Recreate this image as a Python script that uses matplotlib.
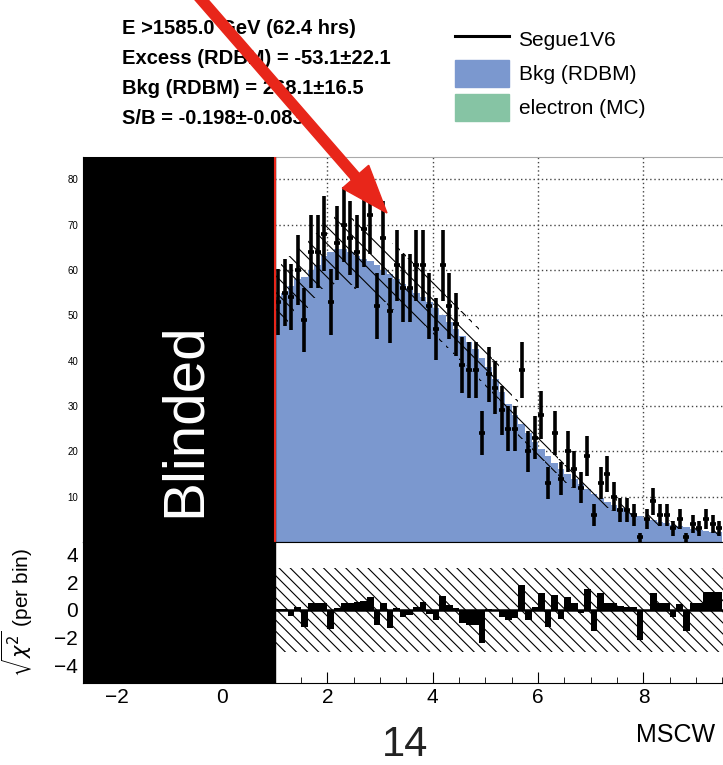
import numpy as np
import matplotlib.pyplot as plt
from matplotlib.patches import Patch, FancyArrow
from matplotlib.lines import Line2D
from matplotlib.ticker import MultipleLocator

plt.rcParams['font.family'] = ['Liberation Sans', 'DejaVu Sans']
plt.rcParams['hatch.linewidth'] = 0.8

# бины MSCW: ширина 0.125, начиная с 1.0
bin_lo = 1.0
bin_w = 0.125

# число событий в бинах (Segue1V6)
counts = [53, 55, 54, 60, 49, 64, 64, 68, 53, 66,
          70, 67, 64, 69, 72, 52, 67, 51, 61, 56,
          56, 61, 61, 52, 47, 61, 52, 48, 39, 38,
          38, 24, 37, 34, 29, 25, 25, 38, 20, 23,
          28, 13, 24, 14, 20, 16, 12, 19, 6, 13,
          15, 10, 7, 7, 6, 1, 5, 9, 6, 6,
          3, 5, 1, 4, 3, 5, 4, 3]

# фон (RDBM)
bkg = [54, 55, 56.5, 58, 58.5, 60, 61, 63, 64, 64.5,
       64.5, 64, 63, 62.5, 62, 61, 60, 59, 58, 57,
       56, 55, 54, 53, 51.5, 50, 48.5, 47, 45.5, 44,
       42.5, 40.5, 38.5, 36, 33, 30.5, 28, 26, 24, 22,
       20.5, 19, 17.5, 16.2, 15, 13.8, 12.7, 11.6, 10.6, 9.7,
       8.9, 8.2, 7.5, 6.9, 6.3, 5.8, 5.3, 4.9, 4.5, 4.1,
       3.8, 3.5, 3.2, 2.9, 2.7, 2.5, 2.3, 2.1]

bkg_err = [6.3, 6.4, 6.6, 6.8, 6.8, 7.0, 7.1, 7.3, 7.4, 7.5,
           7.5, 7.4, 7.3, 7.3, 7.2, 7.1, 7.0, 6.9, 6.8, 6.7,
           6.6, 6.5, 6.3, 6.2, 6.1, 5.9, 5.7, 5.6, 5.4, 5.2,
           5.1, 4.9, 4.6, 4.4, 4.0, 3.8, 3.5, 3.3, 3.0, 2.8,
           2.6, 2.5, 2.3, 2.2, 2.0, 1.9, 1.8, 1.7, 1.6, 1.5,
           1.4, 1.3, 1.2, 1.2, 1.1, 1.0, 1.0, 0.9, 0.9, 0.8,
           0.8, 0.7, 0.7, 0.7, 0.6, 0.6, 0.6, 0.5]

# sqrt(chi2) по бинам
resid = [0.05, 0.05, -0.43, 0.24, -1.2, 0.48, 0.48, 0.48, -1.37, 0.12,
         0.48, 0.48, 0.55, 0.67, 0.9, -1.08, 0.48, -1.27, 0.12, -0.48,
         -0.36, 0.24, 0.55, -0.29, -0.72, 1.03, 0.36, 0.12, -0.96, -1.08,
         -1.08, -2.4, 0.07, -0.07, -0.48, -0.72, -0.6, 1.8, -0.72, 0.24,
         1.2, -1.2, 1.08, -0.67, 0.96, 0.48, -0.24, 1.49, -1.49, 1.2,
         0.48, 0.48, 0.3, 0.24, 0.24, -2.16, -0.1, 1.2, 0.48, 0.48,
         -0.48, 0.4, -1.5, 0.53, 0.53, 1.27, 1.27, 1.27]

chi_band = [-3, 3]
blind_edge = 1.0
x_ticks = [-2, 0, 2, 4, 6, 8]
top_ticks = [10, 20, 30, 40, 50, 60, 70, 80]
chi_ticks = [-4, -2, 0, 2, 4]

info_lines = ['E >1585.0 GeV (62.4 hrs)',
              'Excess (RDBM) = -53.1\u00b122.1',
              'Bkg (RDBM) = 268.1\u00b116.5',
              'S/B = -0.198\u00b1-0.083']
legend_labels = ['Segue1V6', 'Bkg (RDBM)', 'electron (MC)']

blue = '#7b98cf'
green = '#86c4a4'
red = '#e8261a'

counts = np.array(counts, dtype=float)
bkg = np.array(bkg)
bkg_err = np.array(bkg_err)
edges = bin_lo + bin_w * np.arange(len(counts) + 1)
centers = 0.5 * (edges[:-1] + edges[1:])

xmin, xmax = -2.64, 9.51

fig = plt.figure(figsize=(7.23, 7.65), dpi=100)
ax1 = fig.add_axes([0.1148, 0.2915, 0.8852, 0.5039])
ax2 = fig.add_axes([0.1148, 0.1072, 0.8852, 0.1843])

# верхняя панель
ax1.set_axisbelow(True)
ax1.grid(True, linestyle=(0, (1, 2)), color='#444444', lw=1)
ax1.stairs(bkg, edges, fill=True, color=blue, zorder=1)
ax1.stairs(bkg + bkg_err, edges, baseline=bkg - bkg_err, fill=True,
           facecolor='none', edgecolor='black', hatch='\\\\', lw=0, zorder=2)
ax1.errorbar(centers, counts, yerr=np.sqrt(counts), fmt='_', color='black',
             ms=5, mew=2.6, elinewidth=2.6, capsize=0, zorder=4)
ax1.axvspan(xmin, blind_edge, color='black', zorder=5)
ax1.axvline(blind_edge, color=red, lw=1.5, zorder=6)
ax1.set_xlim(xmin, xmax)
ax1.set_ylim(0, 85)
ax1.set_xticks(x_ticks)
ax1.set_yticks(top_ticks)
ax1.tick_params(axis='x', length=0, labelbottom=False)
ax1.tick_params(axis='y', direction='in', labelsize=7, length=4)
ax1.spines['top'].set_color('#aaaaaa')
ax1.spines['right'].set_visible(False)

# нижняя панель
ax2.fill_between([blind_edge, 10], chi_band[0], chi_band[1], facecolor='none',
                 edgecolor='black', hatch='\\\\\\', lw=0, zorder=1)
ax2.stairs(resid, edges, baseline=0, fill=True, color='black', zorder=3)
ax2.hlines(0, blind_edge, 10, color='black', lw=1.8, zorder=3)
ax2.axvspan(xmin, blind_edge, color='black', zorder=5)
ax2.set_xlim(xmin, xmax)
ax2.set_ylim(-5.25, 4.89)
ax2.set_xticks(x_ticks)
ax2.set_yticks(chi_ticks)
ax2.xaxis.set_minor_locator(MultipleLocator(0.5))
ax2.tick_params(axis='both', which='major', direction='in', labelsize=15, length=8)
ax2.tick_params(axis='x', which='minor', direction='in', length=4)
ax2.spines['right'].set_visible(False)
ax2.set_ylabel(r'$\sqrt{\chi^2}$ (per bin)', fontsize=15)
ax2.yaxis.set_label_coords(-0.075, 0.5)

fig.text(185 / 723, 1 - 420 / 765, 'Blinded', rotation=90, color='white',
         fontsize=42, ha='center', va='center')

for i, line in enumerate(info_lines):
    fig.text(122 / 723, 1 - (28 + 30 * i) / 765, line, fontsize=14.5,
             fontweight='bold', va='center', ha='left')

handles = [Line2D([], [], color='black', lw=2.2),
           Patch(color=blue), Patch(color=green)]
fig.legend(handles, legend_labels, loc='upper left',
           bbox_to_anchor=(455 / 723, 1 - 26 / 765), frameon=False, fontsize=15,
           handlelength=2.6, handleheight=1.6, labelspacing=0.35,
           handletextpad=0.45, borderpad=0, borderaxespad=0)

fig.text(676 / 723, 1 - 735 / 765, 'MSCW', fontsize=18, ha='center', va='center')
fig.text(405 / 723, 1 - 745 / 765, '14', fontsize=30, color='#222222',
         ha='center', va='center')

arrow = FancyArrow(1.93, 7.75, 1.94, -2.23, width=0.10, head_width=0.35,
                   head_length=0.48, length_includes_head=True, color=red,
                   transform=fig.dpi_scale_trans, zorder=10)
fig.add_artist(arrow)

fig.savefig('out.png', dpi=100)
